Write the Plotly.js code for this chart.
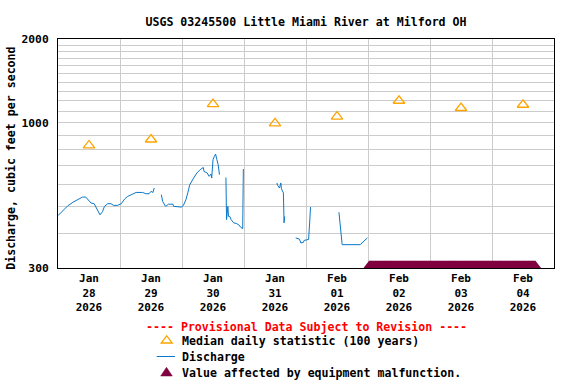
<!DOCTYPE html>
<html>
<head>
<meta charset="utf-8">
<script src="https://cdn.plot.ly/plotly-3.0.1.min.js"></script>
<style>
  html, body { margin: 0; padding: 0; background: #ffffff; }
  #chart { width: 576px; height: 384px; }
</style>
</head>
<body>
<div id="chart"></div>
<script>
// ---------- data ----------
var chartTitle = 'USGS 03245500 Little Miami River at Milford OH';
var yAxisTitle = 'Discharge, cubic feet per second';
var provisionalText = '---- Provisional Data Subject to Revision ----';
var legendLabels = ['Median daily statistic (100 years)', 'Discharge', 'Value affected by equipment malfunction.'];

// Discharge (cfs); null marks a gap in the record
var dischargeTimes = [
  '2026-01-28 00:00','2026-01-28 01:45','2026-01-28 03:45','2026-01-28 05:45','2026-01-28 07:30',
  '2026-01-28 09:30','2026-01-28 10:45','2026-01-28 12:00','2026-01-28 12:45','2026-01-28 14:00',
  '2026-01-28 15:00','2026-01-28 16:15','2026-01-28 17:15','2026-01-28 18:00','2026-01-28 19:15',
  '2026-01-28 20:30','2026-01-28 21:30','2026-01-28 23:00','2026-01-29 00:30','2026-01-29 01:45',
  '2026-01-29 03:00','2026-01-29 05:00','2026-01-29 06:15','2026-01-29 08:45','2026-01-29 10:00',
  '2026-01-29 11:15','2026-01-29 12:00','2026-01-29 12:45','2026-01-29 13:15','2026-01-29 14:30',
  '2026-01-29 16:00','2026-01-29 16:30','2026-01-29 17:30','2026-01-29 17:45','2026-01-29 18:45',
  '2026-01-29 20:30','2026-01-29 20:45','2026-01-29 23:15','2026-01-29 23:45','2026-01-30 00:30',
  '2026-01-30 01:30','2026-01-30 02:15','2026-01-30 03:00','2026-01-30 04:30','2026-01-30 05:45',
  '2026-01-30 07:00','2026-01-30 08:15','2026-01-30 08:30','2026-01-30 09:45','2026-01-30 10:30',
  '2026-01-30 11:15','2026-01-30 11:30','2026-01-30 12:00','2026-01-30 12:30','2026-01-30 13:00',
  '2026-01-30 13:30','2026-01-30 14:00','2026-01-30 14:30','2026-01-30 15:45',
  '2026-01-30 17:00','2026-01-30 17:15','2026-01-30 17:45','2026-01-30 18:00','2026-01-30 18:30',
  '2026-01-30 19:00','2026-01-30 20:00','2026-01-30 21:00','2026-01-30 22:00','2026-01-30 22:45',
  '2026-01-30 23:30','2026-01-30 23:45','2026-01-31 06:00',
  '2026-01-31 12:45','2026-01-31 13:00','2026-01-31 13:45','2026-01-31 14:15','2026-01-31 14:30',
  '2026-01-31 15:15','2026-01-31 15:30','2026-01-31 15:45','2026-01-31 17:00',
  '2026-01-31 20:00','2026-01-31 21:30','2026-01-31 22:00','2026-01-31 23:00','2026-01-31 23:15',
  '2026-02-01 01:00','2026-02-01 01:30','2026-02-01 01:45','2026-02-01 06:00',
  '2026-02-01 12:45','2026-02-01 13:30','2026-02-01 14:00','2026-02-01 21:00','2026-02-01 22:30',
  '2026-02-01 23:45'
];
var dischargeValues = [
  463, 479, 502, 517, 528,
  540, 540, 525, 514, 511,
  493, 466, 479, 500, 511,
  511, 504, 504, 511, 531,
  543, 554, 561, 561, 555,
  555, 566, 561, 582, null,
  551, 521, 502, 500, 509,
  509, 500, 500, 497, 503,
  528, 559, 598, 632, 659,
  677, 690, 668, 659, 641,
  653, 632, 736, 756, 771,
  736, 706, 650, null,
  635, 448, 500, 460, 460,
  448, 436, 434, 429, 420,
  416, 681, null,
  607, 595, 582, 607, 578,
  559, 436, 460, null,
  385, 381, 369, 371, 377,
  380, 450, 497, null,
  476, 412, 364, 364, 377,
  385
];

// Median daily statistic (100 years), plotted at noon of each day
var medianTimes = ['2026-01-28 12:00','2026-01-29 12:00','2026-01-30 12:00','2026-01-31 12:00',
                   '2026-02-01 12:00','2026-02-02 12:00','2026-02-03 12:00','2026-02-04 12:00'];
var medianValues = [828, 870, 1167, 994, 1051, 1199, 1129, 1160];

// Equipment malfunction period (15-minute readings flagged, drawn on the axis floor)
var malfunctionStart = '2026-02-02 00:30';
var malfunctionEnd = '2026-02-04 16:45';
var malfunctionLevel = 300;

// Axis ticks
var dayBoundaries = ['2026-01-28','2026-01-29','2026-01-30','2026-01-31','2026-02-01',
                     '2026-02-02','2026-02-03','2026-02-04','2026-02-05'];
var xTickVals = medianTimes;
var xTickText = ['Jan<br>28<br>2026','Jan<br>29<br>2026','Jan<br>30<br>2026','Jan<br>31<br>2026',
                 'Feb<br>01<br>2026','Feb<br>02<br>2026','Feb<br>03<br>2026','Feb<br>04<br>2026'];
var yTickVals = [300, 1000, 2000];
var yTickText = ['300', '1000', '2000'];
var yGridVals = [400, 500, 600, 700, 800, 900, 1100, 1200, 1300, 1400, 1500, 1600, 1700, 1800, 1900];

// ---------- build the malfunction flag times ----------
function pad(n) { return (n < 10 ? '0' : '') + n; }
function fmt(d) {
  return d.getUTCFullYear() + '-' + pad(d.getUTCMonth() + 1) + '-' + pad(d.getUTCDate()) + ' ' +
         pad(d.getUTCHours()) + ':' + pad(d.getUTCMinutes());
}
var malfunctionTimes = [];
var malfunctionValues = [];
(function () {
  var t = new Date(malfunctionStart.replace(' ', 'T') + ':00Z');
  var end = new Date(malfunctionEnd.replace(' ', 'T') + ':00Z');
  while (t <= end) {
    malfunctionTimes.push(fmt(t));
    malfunctionValues.push(malfunctionLevel);
    t = new Date(t.getTime() + 15 * 60 * 1000);
  }
})();

// ---------- styling ----------
var FONT = 'DejaVu Sans Mono, Liberation Mono, monospace';
var PL = 58, PR = 554, PT = 39, PB = 268;
var PW = PR - PL, PH = PB - PT;
function px2paperX(px) { return (px - PL) / PW; }
function px2paperY(py) { return (PB - py) / PH; }

var traces = [
  {
    x: dischargeTimes, y: dischargeValues, type: 'scatter', mode: 'lines',
    line: { color: '#0a78c8', width: 1, shape: 'linear' },
    connectgaps: false, hoverinfo: 'x+y', showlegend: false
  },
  {
    x: medianTimes, y: medianValues, type: 'scatter', mode: 'markers',
    marker: { symbol: 'triangle-up-open', size: 10, color: '#ffa500', line: { width: 1.3, color: '#ffa500' } },
    showlegend: false
  },
  {
    x: malfunctionTimes, y: malfunctionValues, type: 'scatter', mode: 'markers',
    marker: { symbol: 'triangle-up', size: 15, color: '#800040', line: { width: 0 } },
    cliponaxis: true, showlegend: false
  }
];

var annotations = [
  {
    text: yAxisTitle, xref: 'paper', yref: 'paper',
    x: px2paperX(11.5), y: px2paperY(158.3), xanchor: 'center', yanchor: 'middle',
    textangle: -90, showarrow: false,
    font: { family: FONT, size: 11.6, color: '#000000', weight: 'bold' }
  },
  {
    text: provisionalText, xref: 'paper', yref: 'paper',
    x: 0.5, y: px2paperY(327), xanchor: 'center', yanchor: 'middle', showarrow: false,
    font: { family: FONT, size: 11.6, color: '#ff0000', weight: 'bold' }
  }
];
var legendRowsY = [341.3, 357, 372.7];
legendLabels.forEach(function (lab, i) {
  annotations.push({
    text: lab, xref: 'paper', yref: 'paper',
    x: px2paperX(180), y: px2paperY(legendRowsY[i]), xanchor: 'left', yanchor: 'middle', showarrow: false,
    font: { family: FONT, size: 11.6, color: '#000000', weight: 'bold' }
  });
});

var shapes = [
  { // open orange triangle
    type: 'path', xref: 'paper', yref: 'paper', xsizemode: 'pixel', ysizemode: 'pixel',
    xanchor: px2paperX(166.7), yanchor: px2paperY(343),
    path: 'M -5.5,0 L 5.5,0 L 0,7.2 Z',
    line: { color: '#ffa500', width: 1.3 }, fillcolor: 'rgba(0,0,0,0)'
  },
  { // blue line
    type: 'line', xref: 'paper', yref: 'paper',
    x0: px2paperX(156.7), x1: px2paperX(175), y0: px2paperY(356.5), y1: px2paperY(356.5),
    line: { color: '#0a78c8', width: 1 }
  },
  { // filled maroon triangle
    type: 'path', xref: 'paper', yref: 'paper', xsizemode: 'pixel', ysizemode: 'pixel',
    xanchor: px2paperX(166.5), yanchor: px2paperY(376),
    path: 'M -5.8,0 L 5.8,0 L 0,8.7 Z',
    line: { color: '#800040', width: 0.5 }, fillcolor: '#800040'
  }
];

var layout = {
  width: 576, height: 384,
  margin: { l: PL, r: 576 - PR, t: PT, b: 384 - PB, pad: 0 },
  paper_bgcolor: '#ffffff', plot_bgcolor: '#ffffff',
  font: { family: FONT, size: 11.6, color: '#000000', weight: 'bold' },
  title: {
    text: chartTitle, xref: 'paper', x: 0.5, xanchor: 'center',
    yref: 'container', y: 1 - 21.7 / 384, yanchor: 'middle',
    font: { family: FONT, size: 11.6, color: '#000000', weight: 'bold' }
  },
  showlegend: false,
  xaxis: {
    type: 'date',
    range: ['2026-01-28', '2026-02-05'],
    tickmode: 'array', tickvals: xTickVals, ticktext: xTickText,
    showgrid: false, zeroline: false,
    ticks: '',
    tickfont: { family: FONT, size: 11, color: '#000000', weight: 'bold' },
    showline: true, linecolor: '#000000', linewidth: 1, mirror: true,
    minor: { tickmode: 'array', tickvals: dayBoundaries, showgrid: true, gridcolor: '#cccccc', gridwidth: 1, ticks: '' },
    fixedrange: true
  },
  yaxis: {
    type: 'log',
    range: [Math.log10(300), Math.log10(2000)],
    tickmode: 'array', tickvals: yTickVals, ticktext: yTickText,
    showgrid: true, gridcolor: '#cccccc', gridwidth: 1, zeroline: false,
    ticks: '', ticklabelstandoff: 6,
    tickfont: { family: FONT, size: 11.3, color: '#000000', weight: 'bold' },
    showline: true, linecolor: '#000000', linewidth: 1, mirror: true,
    minor: { tickmode: 'array', tickvals: yGridVals, showgrid: true, gridcolor: '#cccccc', gridwidth: 1, ticks: '' },
    fixedrange: true
  },
  annotations: annotations,
  shapes: shapes
};

Plotly.newPlot('chart', traces, layout, { staticPlot: true, displayModeBar: false });
</script>
</body>
</html>
